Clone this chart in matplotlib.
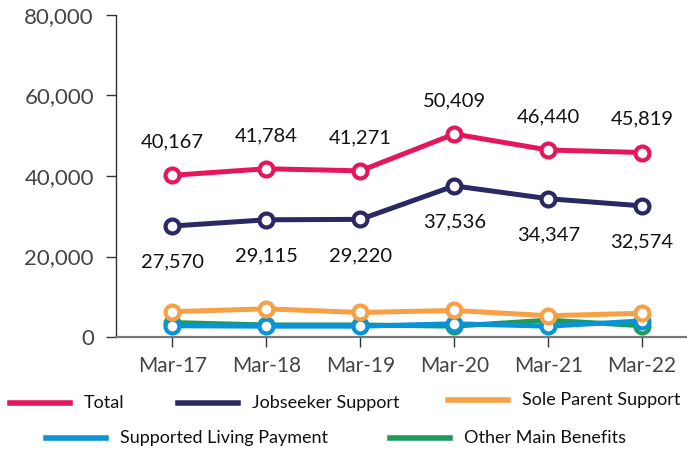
import matplotlib.pyplot as plt
from matplotlib.lines import Line2D
from matplotlib.ticker import FuncFormatter

plt.rcParams['font.family'] = ['Lato', 'DejaVu Sans']

months = ['Mar-17', 'Mar-18', 'Mar-19', 'Mar-20', 'Mar-21', 'Mar-22']
total = [40167, 41784, 41271, 50409, 46440, 45819]
jobseeker = [27570, 29115, 29220, 37536, 34347, 32574]
sole_parent = [6300, 7000, 6100, 6600, 5300, 5900]
supported_living = [2800, 2700, 2700, 3300, 2700, 4000]
other_main = [3600, 3000, 3000, 2700, 4200, 2800]

series = [
    ('Other Main Benefits', other_main, '#1f9a5d'),
    ('Supported Living Payment', supported_living, '#0a93d6'),
    ('Sole Parent Support', sole_parent, '#f7a045'),
    ('Jobseeker Support', jobseeker, '#2b2962'),
    ('Total', total, '#e5175c'),
]

fig = plt.figure(figsize=(6.87, 4.5), dpi=100)
ax = fig.add_axes([0.169, 0.251, 0.830, 0.716])

x = list(range(len(months)))
for name, vals, col in series:
    ax.plot(x, vals, color=col, lw=3.6, marker='o', ms=10,
            mfc='white', mec=col, mew=3, solid_capstyle='round', zorder=3)

# data labels
for i, v in enumerate(total):
    ax.annotate(f'{v:,}', (i, v), xytext=(0, 24), textcoords='offset points',
                ha='center', va='center', fontsize=14.5, color='#111111')
for i, v in enumerate(jobseeker):
    ax.annotate(f'{v:,}', (i, v), xytext=(0, -26), textcoords='offset points',
                ha='center', va='center', fontsize=14.5, color='#111111')

ax.set_ylim(0, 80000)
ax.set_xlim(-0.6, 5.47)
ax.set_yticks([0, 20000, 40000, 60000, 80000])
ax.yaxis.set_major_formatter(FuncFormatter(lambda v, p: f'{int(v):,}'))
ax.set_xticks(x)
ax.set_xticklabels(months)

for s in ['top', 'right']:
    ax.spines[s].set_visible(False)
ax.spines['left'].set_color('#333333')
ax.spines['left'].set_linewidth(1.0)
ax.spines['bottom'].set_color('#777777')
ax.spines['bottom'].set_linewidth(1.6)
ax.tick_params(axis='y', length=7, width=1, color='#333333',
               labelsize=16, labelcolor='#444444', pad=9)
ax.tick_params(axis='x', length=7, width=1, color='#333333',
               labelsize=15, labelcolor='#444444', pad=7)

# legend, drawn in figure pixels
legend_items = [
    ('Total', '#e5175c', 10, 403),
    ('Jobseeker Support', '#2b2962', 178, 403),
    ('Sole Parent Support', '#f7a045', 448, 400),
    ('Supported Living Payment', '#0a93d6', 46, 438),
    ('Other Main Benefits', '#1f9a5d', 390, 438),
]
W, H = 687, 450
for name, col, px, py in legend_items:
    fig.add_artist(Line2D([px / W, (px + 60) / W], [1 - py / H, 1 - py / H],
                          color=col, lw=4, transform=fig.transFigure))
    fig.text((px + 74) / W, 1 - py / H, name, fontsize=13, color='#111111',
             va='center', ha='left')

fig.savefig('out.png', dpi=100)
